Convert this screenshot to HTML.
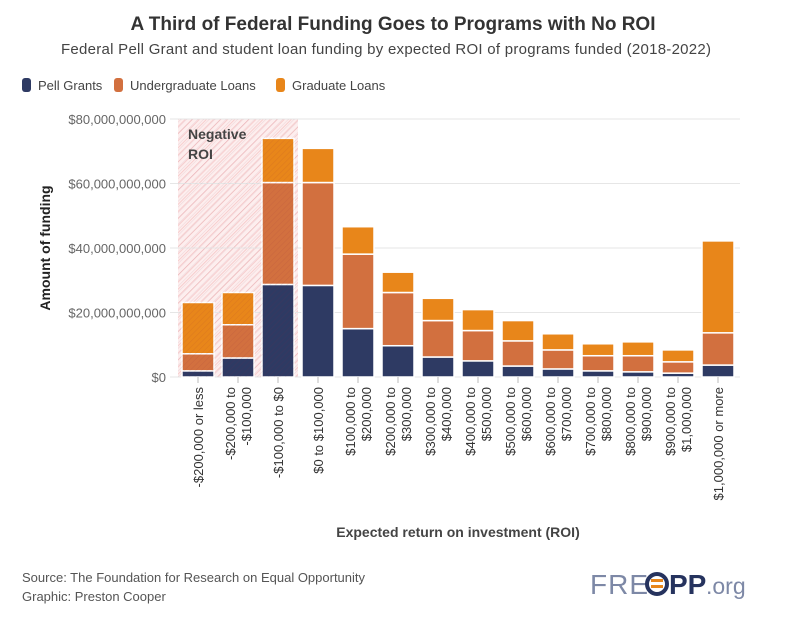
<!DOCTYPE html>
<html><head><meta charset="utf-8">
<style>
body{margin:0;background:#fff;font-family:"Liberation Sans",sans-serif;}
svg{display:block}
</style></head>
<body>
<svg id="chart" width="787" height="618" viewBox="0 0 787 618" xmlns="http://www.w3.org/2000/svg">
<defs>
<pattern id="hatch" patternUnits="userSpaceOnUse" width="5" height="5" patternTransform="rotate(45)">
<rect width="5" height="5" fill="#fdeeee"/>
<line x1="0" y1="0" x2="0" y2="5" stroke="#f6c6c6" stroke-width="1.6"/>
</pattern>
<pattern id="hatch2" patternUnits="userSpaceOnUse" width="4" height="4" patternTransform="rotate(45)">
<line x1="0" y1="0" x2="0" y2="4" stroke="#8a2040" stroke-width="1.2"/>
</pattern>
</defs>
<text x="393" y="30" text-anchor="middle" font-size="19" font-weight="bold" fill="#333">A Third of Federal Funding Goes to Programs with No ROI</text>
<text x="386" y="54" text-anchor="middle" font-size="15" fill="#444" textLength="650">Federal Pell Grant and student loan funding by expected ROI of programs funded (2018-2022)</text>
<g id="legend"></g>
<rect x="178" y="119" width="120" height="258" fill="url(#hatch)"/>
<g id="grid"></g>
<g id="bars"></g>
<g id="hatch-over"></g>
<text x="188" y="139" font-size="14" font-weight="bold" fill="#444">Negative</text>
<text x="188" y="159" font-size="14" font-weight="bold" fill="#444">ROI</text>
<g id="xlabels"></g>
<text transform="translate(50,248) rotate(-90)" text-anchor="middle" font-size="14" font-weight="bold" fill="#222">Amount of funding</text>
<text x="458" y="537" text-anchor="middle" font-size="14" font-weight="bold" fill="#444">Expected return on investment (ROI)</text>
<text x="22" y="582" font-size="13" fill="#555">Source: The Foundation for Research on Equal Opportunity</text>
<text x="22" y="601" font-size="13" fill="#555">Graphic: Preston Cooper</text>
<g>
<text x="590" y="594" font-size="28" fill="#7d88a6" letter-spacing="1">FRE</text>
<circle cx="657" cy="584" r="10" fill="none" stroke="#26335e" stroke-width="4"/>
<rect x="651" y="579" width="12" height="3" fill="#e8861a"/>
<rect x="651" y="585" width="12" height="3" fill="#e8861a"/>
<text x="669" y="594" font-size="28" font-weight="bold" fill="#26335e">PP</text>
<text x="706" y="594" font-size="23" fill="#7d88a6">.org</text>
</g>
</svg>
<script>
const categories=["-$200,000 or less","-$200,000 to -$100,000","-$100,000 to $0","$0 to $100,000","$100,000 to $200,000","$200,000 to $300,000","$300,000 to $400,000","$400,000 to $500,000","$500,000 to $600,000","$600,000 to $700,000","$700,000 to $800,000","$800,000 to $900,000","$900,000 to $1,000,000","$1,000,000 or more"];
const labelLines=[["-$200,000 or less"],["-$200,000 to","-$100,000"],["-$100,000 to $0"],["$0 to $100,000"],["$100,000 to","$200,000"],["$200,000 to","$300,000"],["$300,000 to","$400,000"],["$400,000 to","$500,000"],["$500,000 to","$600,000"],["$600,000 to","$700,000"],["$700,000 to","$800,000"],["$800,000 to","$900,000"],["$900,000 to","$1,000,000"],["$1,000,000 or more"]];
const pell=[1.9,5.9,28.7,28.4,15.0,9.7,6.2,5.0,3.4,2.5,1.9,1.6,1.2,3.7];
const ugLoans=[5.3,10.3,31.6,31.9,23.1,16.5,11.3,9.4,7.8,5.9,4.7,5.0,3.5,10.0];
const gradLoans=[15.9,10.0,13.7,10.6,8.5,6.3,6.9,6.5,6.3,5.0,3.7,4.3,3.7,28.5];
const yTicks=[0,20,40,60,80];
const yTickLabels=["$0","$20,000,000,000","$40,000,000,000","$60,000,000,000","$80,000,000,000"];
const legendNames=["Pell Grants","Undergraduate Loans","Graduate Loans"];
const colors=["#2e3a63","#d2703f","#e8861a"];

const NS="http://www.w3.org/2000/svg";
function mk(t,a,p){const e=document.createElementNS(NS,t);for(const k in a)e.setAttribute(k,a[k]);p.appendChild(e);return e;}
const y0=377,yTop=119,x0=178,step=40,bw=32;
function yScale(v){return y0-(v/80)*(y0-yTop);}
function xCenter(i){return x0+20+i*step;}

const grid=document.getElementById('grid');
yTicks.forEach((t,i)=>{
  const l=mk('line',{x1:170,x2:740,y1:yScale(t),y2:yScale(t),stroke:'#e6e6e6','stroke-width':1},grid);
  
  
  const tx=mk('text',{x:166,y:yScale(t)+5,'text-anchor':'end','font-size':13,fill:'#666'},grid);
  tx.textContent=yTickLabels[i];
  
  
});

const bars=document.getElementById('bars');
const series=[pell,ugLoans,gradLoans];
const snames=['pell','undergrad-loans','grad-loans'];
categories.forEach((c,i)=>{
  let acc=0;
  series.forEach((s,k)=>{
    const v=s[i];
    const top=yScale(acc+v),bot=yScale(acc);
    const r=mk('rect',{x:xCenter(i)-bw/2,y:top,width:bw,height:bot-top,fill:colors[k],stroke:'#fff','stroke-width':1.5},bars);
    
    
    acc+=v;
  });
  const tk=mk('line',{x1:xCenter(i),x2:xCenter(i),y1:y0,y2:y0+6,stroke:'#bbb'},bars);
  
  
});
const ho=document.getElementById('hatch-over');
const ov=mk('rect',{x:178,y:119,width:120,height:258,fill:'url(#hatch2)',opacity:0.12},ho);



const xl=document.getElementById('xlabels');
labelLines.forEach((lines,i)=>{
  const n=lines.length;
  lines.forEach((ln,j)=>{
    const xx=xCenter(i)+5-(n-1)*8+j*16;
    const t=mk('text',{transform:`translate(${xx},387) rotate(-90)`,'text-anchor':'end','font-size':13,fill:'#333'},xl);
    t.textContent=ln;
    
    
  });
});

const lg=document.getElementById('legend');
const lxs=[22,114,276];
legendNames.forEach((n,k)=>{
  const lx=lxs[k];
  const r=mk('rect',{x:lx,y:78,width:9,height:14,rx:3,fill:colors[k]},lg);
  
  
  const t=mk('text',{x:lx+16,y:90,'font-size':13,fill:'#444'},lg);
  t.textContent=n;
  
  
});
</script>
</body></html>
